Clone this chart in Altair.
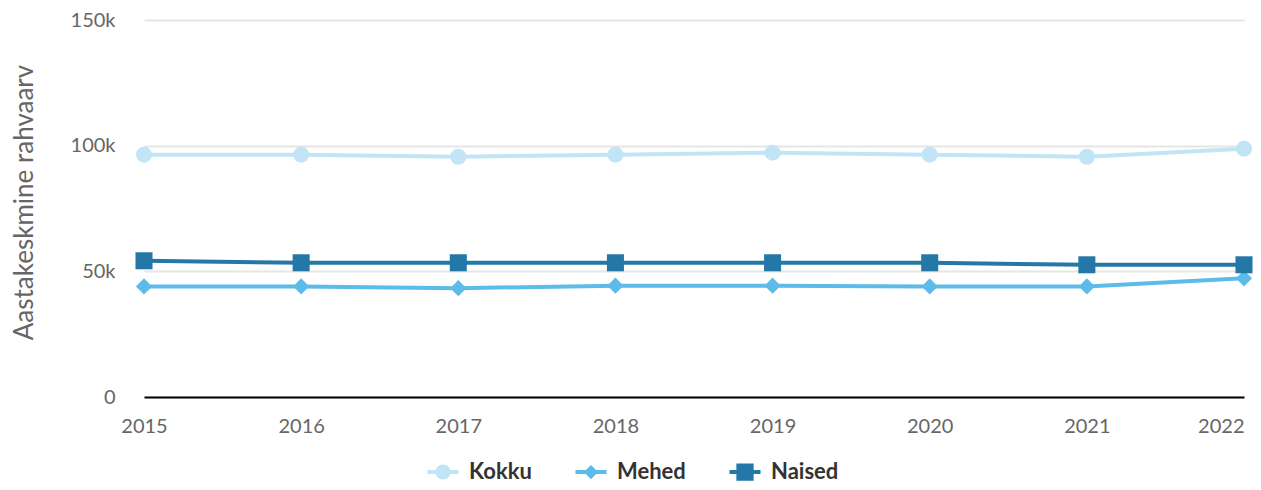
import altair as alt
import pandas as pd

years = ["2015", "2016", "2017", "2018", "2019", "2020", "2021", "2022"]
series_names = ["Kokku", "Mehed", "Naised"]
kokku = [96400, 96400, 95600, 96400, 97200, 96400, 95600, 98800]
mehed = [44000, 44000, 43300, 44300, 44300, 44000, 44000, 47200]
naised = [54200, 53400, 53400, 53400, 53400, 53400, 52600, 52600]
colors = ["#c1e5f6", "#5dbbea", "#2378a8"]
y_ticks = [0, 50000, 100000, 150000]

rows = []
for name, vals in zip(series_names, [kokku, mehed, naised]):
    for yr, v in zip(years, vals):
        rows.append({"Aasta": yr, "Sari": name, "Rahvaarv": v})
df = pd.DataFrame(rows)

FONT = "Lato"

x_enc = alt.X(
    "Aasta:O",
    scale=alt.Scale(type="point", padding=0),
    sort=years,
    axis=alt.Axis(
        title=None,
        labelAngle=0,
        ticks=False,
        labelPadding=19,
        labelFontSize=20,
        labelFont=FONT,
        labelColor="#666666",
        domainColor="#000000",
        domainWidth=2,
        grid=False,
        labelAlign=alt.expr("datum.label == '2022' ? 'right' : 'center'"),
    ),
)
y_enc = alt.Y(
    "Rahvaarv:Q",
    scale=alt.Scale(domain=[0, 150000], nice=False),
    axis=alt.Axis(
        title="Aastakeskmine rahvaarv",
        titleFont=FONT,
        titleFontSize=26,
        titleFontWeight="normal",
        titleColor="#666666",
        titlePadding=33,
        titleY=182,
        values=y_ticks,
        labelExpr="datum.value == 0 ? '0' : (datum.value / 1000) + 'k'",
        labelFont=FONT,
        labelFontSize=20,
        labelColor="#666666",
        labelPadding=29,
        ticks=False,
        domain=False,
        gridColor="#e6e6e6",
        gridWidth=2,
    ),
)
color_scale = alt.Scale(domain=series_names, range=colors)

base = alt.Chart(df)

shapes = ["circle", "diamond", "square"]
sizes = [256, 260, 290]
line_layers = []
point_layers = []
for name, shp, sz, col in zip(series_names, shapes, sizes, colors):
    sub = base.transform_filter(alt.datum.Sari == name)
    line_layers.append(
        sub.mark_line(strokeWidth=4, color=col).encode(x=x_enc, y=y_enc)
    )
    point_layers.append(
        sub.mark_point(shape=shp, size=sz, filled=True, opacity=1, color=col)
        .encode(x=x_enc, y=y_enc)
    )

# legend symbols: a line segment with the series marker (box of 15px, drawn wider)
legend_paths = [
    "M-2.07,-0.27H2.07V0.27H-2.07Z M-1,0A1,1 0 1,1 1,0A1,1 0 1,1 -1,0Z",
    "M-2.07,-0.27H2.07V0.27H-2.07Z M-0.95,0L0,-0.95L0.95,0L0,0.95Z",
    "M-2.07,-0.27H2.07V0.27H-2.07Z M-1.15,-1.15H1.15V1.15H-1.15Z",
]
leg = alt.Legend(
    title=None,
    orient="none",
    direction="horizontal",
    legendX=288,
    legendY=441,
    labelFont=FONT,
    labelFontSize=22,
    labelFontWeight="bold",
    labelColor="#333333",
    symbolSize=225,
    symbolOpacity=1,
    symbolStrokeWidth=0,
    columnPadding=43,
    labelOffset=15,
)
legend_layer = base.mark_point(filled=True, size=0).encode(
    x=x_enc,
    y=y_enc,
    color=alt.Color("Sari:N", scale=color_scale, legend=leg, sort=series_names),
    shape=alt.Shape("Sari:N", scale=alt.Scale(domain=series_names, range=legend_paths), legend=leg, sort=series_names),
)

chart = (
    alt.layer(*line_layers, *point_layers, legend_layer)
    .properties(width=1100, height=377, padding={"left": 3, "top": 2, "right": 0, "bottom": 0})
    .configure_view(stroke=None)
)

chart.save("out.html", embed_options={"renderer": "svg", "actions": False})
